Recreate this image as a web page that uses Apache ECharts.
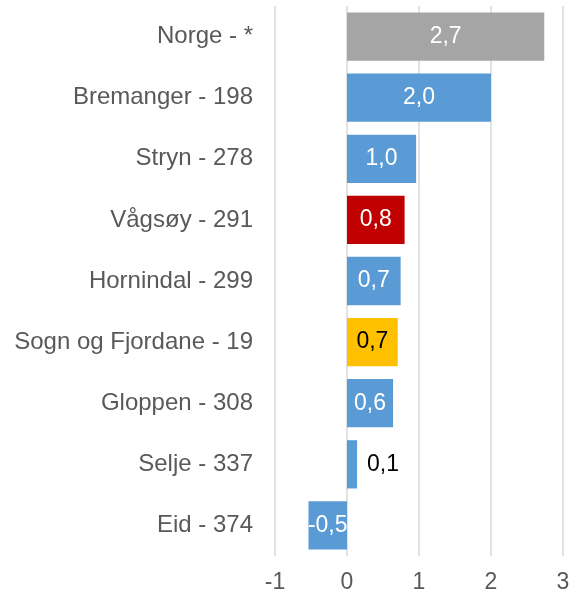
<!DOCTYPE html>
<html>
<head>
<meta charset="utf-8" />
<title></title>
<script src="https://cdn.jsdelivr.net/npm/echarts@6/dist/echarts.min.js"></script>
<style>
  html, body { margin: 0; padding: 0; background: #fff; }
</style>
</head>
<body>
<div id="main" style="width: 577px; height: 596px;"></div>
<script>
  var categories = ['Norge - *', 'Bremanger - 198', 'Stryn - 278', 'Vågsøy - 291', 'Hornindal - 299',
    'Sogn og Fjordane - 19', 'Gloppen - 308', 'Selje - 337', 'Eid - 374'];
  var values = [2.74, 2.0, 0.96, 0.8, 0.745, 0.705, 0.64, 0.14, -0.535];
  var xTicks = [-1, 0, 1, 2, 3];

  var font = '"Liberation Sans", Arial, sans-serif';

  function barColor(name) {
    if (name.indexOf('Norge') === 0) return '#A5A5A5';
    if (name.indexOf('Vågsøy') === 0) return '#C00000';
    if (name.indexOf('Sogn') === 0) return '#FFC000';
    return '#5B9BD5';
  }

  var seriesData = categories.map(function (name, i) {
    var item = { value: values[i], itemStyle: { color: barColor(name) } };
    if (name.indexOf('Sogn') === 0) {
      item.label = { color: '#000' };
    }
    if (name.indexOf('Selje') === 0) {
      item.label = { position: 'right', color: '#000', distance: 10 };
    }
    return item;
  });

  var myChart = echarts.init(document.getElementById('main'));
  var option = {
    animation: false,
    grid: { left: 275, right: 14, top: 6, bottom: 40 },
    xAxis: {
      type: 'value',
      min: xTicks[0],
      max: xTicks[xTicks.length - 1],
      interval: 1,
      axisLine: { show: false },
      axisTick: { show: false },
      splitLine: { lineStyle: { color: '#D9D9D9', width: 1.5 } },
      axisLabel: { fontSize: 23, color: '#595959', fontFamily: font, margin: 15 }
    },
    yAxis: {
      type: 'category',
      inverse: true,
      data: categories,
      axisLine: { show: false },
      axisTick: { show: false },
      axisLabel: { fontSize: 24, color: '#595959', fontFamily: font, margin: 22 }
    },
    series: [{
      type: 'bar',
      barCategoryGap: '21%',
      data: seriesData,
      label: {
        show: true,
        position: 'inside',
        color: '#fff',
        fontSize: 23,
        fontFamily: font,
        formatter: function (p) {
          return (Math.round(p.value * 10) / 10).toFixed(1).replace('.', ',');
        }
      }
    }]
  };
  myChart.setOption(option);
</script>
</body>
</html>
